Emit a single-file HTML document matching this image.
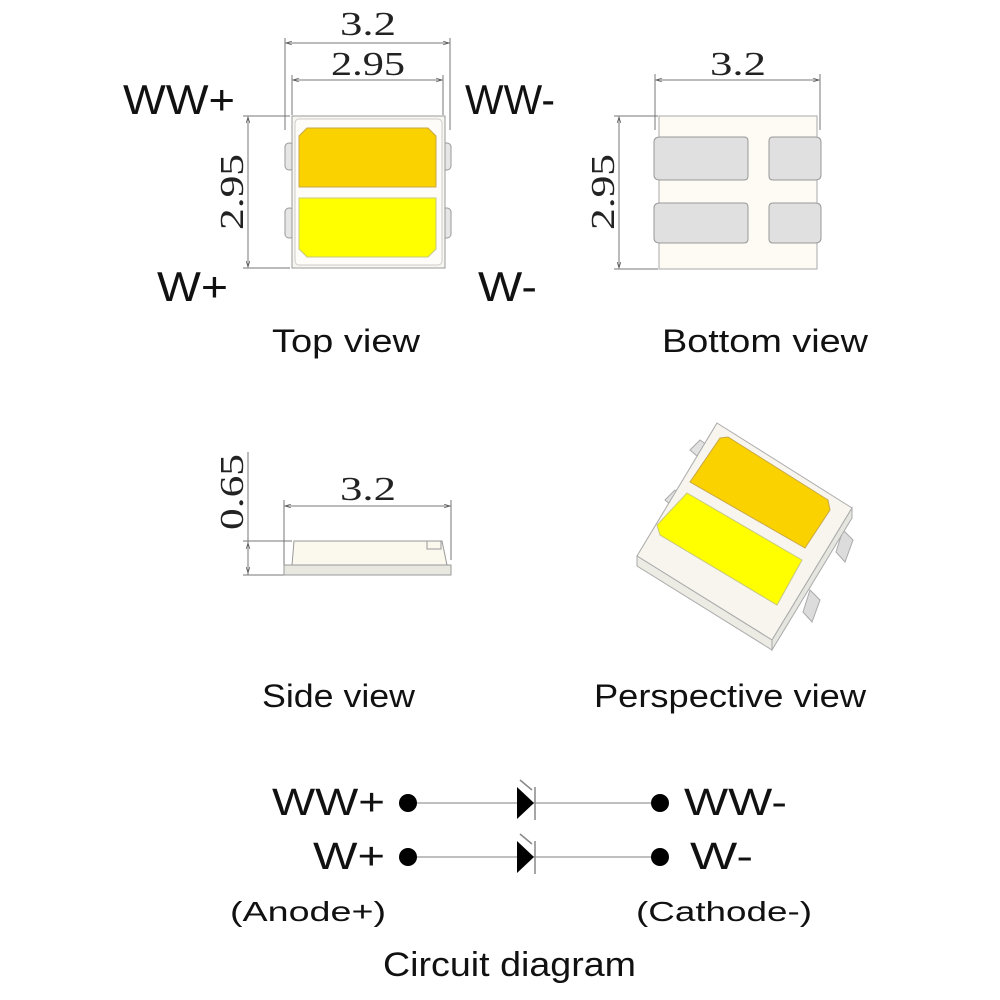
<!DOCTYPE html>
<html><head><meta charset="utf-8"><style>html,body{margin:0;padding:0;background:#fff}svg{display:block}</style></head>
<body>
<svg width="1000" height="1000" viewBox="0 0 1000 1000" xmlns="http://www.w3.org/2000/svg">
<defs>
<marker id="a" viewBox="0 0 10 10" refX="10" refY="5" markerWidth="8" markerHeight="6" orient="auto-start-reverse"><path d="M0,2 L10,5 L0,8" fill="none" stroke="#555" stroke-width="1.2"/></marker>
</defs>
<g font-family="Liberation Sans, sans-serif" fill="#111">
<text x="123" y="114" font-size="42" textLength="112" lengthAdjust="spacingAndGlyphs">WW+</text>
<text x="465" y="114" font-size="42" textLength="90" lengthAdjust="spacingAndGlyphs">WW-</text>
<text x="157" y="301" font-size="42" textLength="71" lengthAdjust="spacingAndGlyphs">W+</text>
<text x="478" y="301" font-size="42" textLength="59" lengthAdjust="spacingAndGlyphs">W-</text>
<text x="272" y="352" font-size="32" textLength="148" lengthAdjust="spacingAndGlyphs">Top view</text>
<text x="662" y="352" font-size="32" textLength="206" lengthAdjust="spacingAndGlyphs">Bottom view</text>
<text x="262" y="707" font-size="32" textLength="153" lengthAdjust="spacingAndGlyphs">Side view</text>
<text x="594" y="707" font-size="32" textLength="272" lengthAdjust="spacingAndGlyphs">Perspective view</text>
<text x="272" y="815" font-size="38" textLength="113" lengthAdjust="spacingAndGlyphs">WW+</text>
<text x="684" y="815" font-size="38" textLength="103" lengthAdjust="spacingAndGlyphs">WW-</text>
<text x="313" y="869" font-size="38" textLength="72" lengthAdjust="spacingAndGlyphs">W+</text>
<text x="690" y="869" font-size="38" textLength="63" lengthAdjust="spacingAndGlyphs">W-</text>
<text x="230" y="921" font-size="28" textLength="156" lengthAdjust="spacingAndGlyphs">(Anode+)</text>
<text x="636" y="921" font-size="28" textLength="176" lengthAdjust="spacingAndGlyphs">(Cathode-)</text>
<text x="383" y="976" font-size="34" textLength="253" lengthAdjust="spacingAndGlyphs">Circuit diagram</text>
</g>
<g font-family="Liberation Serif, serif" fill="#222" font-size="34">
<text x="368" y="35" text-anchor="middle" textLength="56" lengthAdjust="spacingAndGlyphs">3.2</text>
<text x="368" y="75" text-anchor="middle" textLength="74" lengthAdjust="spacingAndGlyphs">2.95</text>
<text x="738" y="75" text-anchor="middle" textLength="56" lengthAdjust="spacingAndGlyphs">3.2</text>
<text x="368" y="500" text-anchor="middle" textLength="56" lengthAdjust="spacingAndGlyphs">3.2</text>
<text transform="translate(243,192) rotate(-90)" text-anchor="middle" textLength="76" lengthAdjust="spacingAndGlyphs">2.95</text>
<text transform="translate(614,192) rotate(-90)" text-anchor="middle" textLength="76" lengthAdjust="spacingAndGlyphs">2.95</text>
<text transform="translate(243,492) rotate(-90)" text-anchor="middle" textLength="76" lengthAdjust="spacingAndGlyphs">0.65</text>
</g>
<g stroke="#777" stroke-width="1" fill="none">
<line x1="285" y1="38" x2="285" y2="130"/><line x1="450" y1="38" x2="450" y2="130"/>
<line x1="286" y1="43" x2="449" y2="43" marker-start="url(#a)" marker-end="url(#a)"/>
<line x1="292" y1="75" x2="292" y2="115"/><line x1="443" y1="75" x2="443" y2="115"/>
<line x1="293" y1="80" x2="442" y2="80" marker-start="url(#a)" marker-end="url(#a)"/>
<line x1="243" y1="116" x2="290" y2="116"/><line x1="243" y1="268" x2="290" y2="268"/>
<line x1="248" y1="117" x2="248" y2="267" marker-start="url(#a)" marker-end="url(#a)"/>
<line x1="655" y1="74" x2="655" y2="130"/><line x1="820" y1="74" x2="820" y2="130"/>
<line x1="656" y1="80" x2="819" y2="80" marker-start="url(#a)" marker-end="url(#a)"/>
<line x1="614" y1="116" x2="658" y2="116"/><line x1="614" y1="269" x2="658" y2="269"/>
<line x1="619" y1="117" x2="619" y2="268" marker-start="url(#a)" marker-end="url(#a)"/>
<line x1="284" y1="500" x2="284" y2="575"/><line x1="451" y1="500" x2="451" y2="560"/>
<line x1="285" y1="506" x2="450" y2="506" marker-start="url(#a)" marker-end="url(#a)"/>
<line x1="248" y1="452" x2="248" y2="575"/>
<line x1="243" y1="541" x2="292" y2="541"/><line x1="243" y1="575" x2="284" y2="575"/>
<line x1="248" y1="543" x2="248" y2="573" marker-start="url(#a)" marker-end="url(#a)"/>
</g>
<g stroke="#999" stroke-width="1">
<rect x="285" y="143" width="9" height="27" rx="4" fill="#e6e6e6"/>
<rect x="285" y="208" width="9" height="30" rx="4" fill="#e6e6e6"/>
<rect x="442" y="143" width="9" height="27" rx="4" fill="#e6e6e6"/>
<rect x="442" y="208" width="9" height="30" rx="4" fill="#e6e6e6"/>
<rect x="292" y="116" width="153" height="152" fill="#f8f6f0"/>
<rect x="295" y="119" width="147" height="146" rx="4" fill="#fefcf8" stroke="#ccc"/>
<polygon points="307,128 428,128 436,136 436,187 299,187 299,136" fill="#fad200" stroke="#c8a848"/>
<polygon points="299,198 436,198 436,249 428,257 307,257 299,249" fill="#ffff00" stroke="#c8c880"/>
</g>
<g stroke="#999" stroke-width="1">
<rect x="659" y="116" width="158" height="153" fill="#fdfbf4" stroke="#aaa"/>
<path d="M654,142 q0,-5 6,-5 h84 q4,0 4,4 v35 q0,4 -4,4 h-84 q-6,0 -6,-5z" fill="#e0e0e0"/>
<path d="M654,208 q0,-5 6,-5 h84 q4,0 4,4 v32 q0,4 -4,4 h-84 q-6,0 -6,-5z" fill="#e0e0e0"/>
<path d="M821,142 q0,-5 -6,-5 h-42 q-4,0 -4,4 v35 q0,4 4,4 h42 q6,0 6,-5z" fill="#e0e0e0"/>
<path d="M821,208 q0,-5 -6,-5 h-42 q-4,0 -4,4 v32 q0,4 4,4 h42 q6,0 6,-5z" fill="#e0e0e0"/>
</g>
<g stroke="#999" stroke-width="1">
<rect x="284" y="565" width="167" height="10" fill="#e8e8e0"/>
<polygon points="294,541 442,541 447,565 292,565" fill="#fbf8ee"/>
<rect x="427" y="541" width="14" height="8" fill="none"/>
</g>
<g stroke="#aaa" stroke-width="1">
<polygon points="690,450 700,440 707,445 697,456" fill="#e2e2e2"/>
<polygon points="665,500 675,490 682,495 672,506" fill="#e2e2e2"/>
<polygon points="843,530 853,540 845,562 836,552" fill="#dcdcdc"/>
<polygon points="810,590 820,600 812,622 803,612" fill="#dcdcdc"/>
<polygon points="717,423 852,508 772,640 637,556" fill="#f7f5ee"/>
<polygon points="637,556 772,640 772,650 637,566" fill="#ecebe4"/>
<polygon points="772,640 852,508 852,518 772,650" fill="#e6e6e0"/>
<polygon points="720,438 728,437 828,500 830,510 805,548 690,482" fill="#fad200" stroke="#c8a848"/>
<polygon points="687,493 802,560 777,605 660,535 657,525" fill="#ffff00" stroke="#c8c880"/>
</g>
<g stroke="#aaa" stroke-width="1.5"><line x1="408" y1="803" x2="660" y2="803"/><line x1="408" y1="857" x2="660" y2="857"/></g>
<g fill="#000"><circle cx="408" cy="803" r="9"/><circle cx="660" cy="803" r="9"/><circle cx="408" cy="857" r="9"/><circle cx="660" cy="857" r="9"/>
<polygon points="517,787 534,803 517,819"/><polygon points="517,841 534,857 517,873"/></g>
<g stroke="#888" stroke-width="1.5"><line x1="535" y1="787" x2="535" y2="820"/><line x1="535" y1="841" x2="535" y2="874"/>
<line x1="520" y1="780" x2="532" y2="790"/><line x1="520" y1="834" x2="532" y2="844"/></g>
</svg>
</body></html>
